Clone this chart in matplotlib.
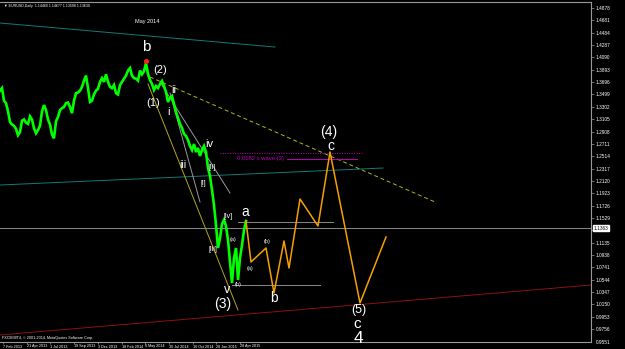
import numpy as np
import matplotlib
matplotlib.use('Agg')
import matplotlib.pyplot as plt
import matplotlib.transforms as mtransforms

plt.rcParams['font.family'] = ['Liberation Sans', 'DejaVu Sans']

# ---------------- data ----------------
# EURUSD daily chart, sampled price path (one value per step)
price = [1.3560, 1.3600, 1.3400, 1.3360, 1.3230, 1.3060, 1.3020, 1.3000, 1.2950, 1.2850,
         1.2900, 1.3080, 1.3100, 1.3050, 1.3030, 1.3150, 1.3100, 1.2960, 1.2880, 1.2930,
         1.3000, 1.3230, 1.3330, 1.3250, 1.3100, 1.3020, 1.2860, 1.2800, 1.3070, 1.3140,
         1.3250, 1.3280, 1.3300, 1.3360, 1.3370, 1.3300, 1.3200, 1.3400, 1.3520, 1.3530,
         1.3560, 1.3620, 1.3720, 1.3800, 1.3600, 1.3380, 1.3400, 1.3500, 1.3560, 1.3590,
         1.3700, 1.3760, 1.3700, 1.3820, 1.3700, 1.3620, 1.3600, 1.3650, 1.3520, 1.3500,
         1.3650, 1.3700, 1.3750, 1.3800, 1.3880, 1.3920, 1.3800, 1.3760, 1.3750, 1.3720,
         1.3880, 1.3820, 1.3870, 1.4001, 1.3825, 1.3730, 1.3666, 1.3570, 1.3634, 1.3602,
         1.3666, 1.3714, 1.3634, 1.3538, 1.3379, 1.3443, 1.3475, 1.3347, 1.3219, 1.3124,
         1.3028, 1.2964, 1.2868, 1.2837, 1.2773, 1.2677, 1.2613, 1.2709, 1.2581, 1.2645,
         1.2518, 1.2613, 1.2677, 1.2581, 1.2326, 1.2199, 1.1975, 1.1736, 1.1417, 1.1050,
         1.1210, 1.1433, 1.1497, 1.1401, 1.1178, 1.0827, 1.0492, 1.0891, 1.1050, 1.0540,
         1.0891, 1.1098, 1.1337, 1.1481]

# projected wave path (orange)
proj_x = [123, 125.5, 133, 137, 142, 144.5, 150, 159, 165, 180, 193]
proj_y = [1.1481, 1.0827, 1.1050, 1.0333, 1.1162, 1.0731, 1.1832, 1.1401, 1.2581, 1.0173, 1.1226]

# trend lines (start/end)
teal_top_x, teal_top_y = [0, 137.5], [1.4639, 1.4256]
teal_mid_x, teal_mid_y = [0, 191.5], [1.2055, 1.2326]
red_x, red_y = [0, 295.5], [0.9663, 1.0460]
ydash_x, ydash_y = [75, 217.5], [1.3778, 1.1784]
ysolid_x, ysolid_y = [74, 119], [1.3666, 1.0061]
grayA_x, grayA_y = [80, 115], [1.3698, 1.1927]
grayB_x, grayB_y = [85, 100], [1.3522, 1.1784]
a_level_x, a_level_y = [119, 166.5], 1.1465
b_level_x, b_level_y = [116, 160], 1.0460
fib_dot_x, fib_dot_y = [110, 181.5], 1.2565
fib_sol_x, fib_sol_y = [143.5, 178.5], 1.2470
bid_price = 1.1363
peak_x, peak_y = 73, 1.4033

date_labels = ['7 Feb 2013', '21 Apr 2013', '1 Jul 2013', '19 Sep 2013', '3 Dec 2013',
               '18 Feb 2014', '6 May 2014', '30 Jul 2014', '16 Oct 2014', '28 Jan 2015',
               '28 Apr 2015']
price_ticks = [1.4878, 1.4681, 1.4484, 1.4287, 1.4090, 1.3893, 1.3696, 1.3499, 1.3302,
               1.3105, 1.2908, 1.2711, 1.2514, 1.2317, 1.2120, 1.1923, 1.1726, 1.1529,
               1.1332, 1.1135, 1.0938, 1.0741, 1.0544, 1.0347, 1.0150, 0.9953, 0.9756]

# wave labels: text, x, y, size
wave_labels = [
    ('b', 73, 1.4256, 11), ('(2)', 80, 1.3889, 8), ('(1)', 76.5, 1.3363, 8),
    ('ii', 87, 1.3570, 8), ('i', 84, 1.3219, 8), ('iii', 91.5, 1.2374, 7.5),
    ('iv', 104.5, 1.2709, 8), ('[ii]', 106, 1.2342, 5), ('[i]', 101.5, 1.2087, 5),
    ('[iv]', 114, 1.1545, 5), ('[iii]', 106.5, 1.1034, 5), ('(a)', 116.5, 1.1178, 4),
    ('(b)', 119, 1.0476, 4), ('a', 122.5, 1.1624, 10), ('(a)', 125, 1.0731, 4),
    ('(b)', 133.5, 1.1146, 4), ('b', 137, 1.0253, 10), ('v', 113.5, 1.0385, 9),
    ('(3)', 111.5, 1.0150, 10), ('(4)', 164.5, 1.2900, 10), ('c', 165.5, 1.2677, 10),
    ('(5)', 179.5, 1.0061, 9), ('c', 178.5, 0.9838, 11), ('4', 179, 0.9599, 12.5),
]

# ---------------- figure ----------------
W, H = 625, 349
fig = plt.figure(figsize=(W / 100, H / 100), dpi=100, facecolor='black')
ax = fig.add_axes([0, 7 / H, 591 / W, 340 / H], facecolor='black')
ax.set_xlim(0, 295.5)
ax.set_ylim(0.9551, 1.4974)

lw_thin = 0.7
ax.plot(teal_top_x, teal_top_y, color='#137a7a', lw=lw_thin)
ax.plot(teal_mid_x, teal_mid_y, color='#137a7a', lw=lw_thin)
ax.plot(red_x, red_y, color='#8b1212', lw=lw_thin)
ax.plot(ydash_x, ydash_y, color='#b5b51e', lw=lw_thin, ls=(0, (4, 3)))
ax.plot(ysolid_x, ysolid_y, color='#b5a31e', lw=lw_thin)
ax.plot(grayA_x, grayA_y, color='#9a9a9a', lw=lw_thin)
ax.plot(grayB_x, grayB_y, color='#9a9a9a', lw=lw_thin)
ax.plot(a_level_x, [a_level_y] * 2, color='#8a8a8a', lw=lw_thin)
ax.plot(b_level_x, [b_level_y] * 2, color='#8a8a8a', lw=lw_thin)
ax.axhline(bid_price, color='#8a8a8a', lw=lw_thin)
ax.plot(fib_dot_x, [fib_dot_y] * 2, color='#c000c0', lw=lw_thin, ls=(0, (1, 1.5)))
ax.plot(fib_sol_x, [fib_sol_y] * 2, color='#c000c0', lw=lw_thin)
ax.text(fib_sol_x[0] - 1.5, fib_sol_y, '0.6182 x wave (3)', color='#c000c0', fontsize=4.2,
        ha='right', va='center')

ax.plot(range(len(price)), price, color='#00ff00', lw=1.9, solid_joinstyle='miter')
ax.plot(proj_x, proj_y, color='#f5a000', lw=1.1)
ax.plot(peak_x, peak_y, 'o', color='#ff2020', ms=2.6, mec='#ff2020')

for t, x, y, s in wave_labels:
    ax.text(x, y, t, color='white', fontsize=s, ha='center', va='center')

ax.text(73.5, 1.4655, 'May 2014', color='white', fontsize=4, ha='center', va='center')
ax.text(0.006, 0.994, '\u25bc EURUSD,Daily  1.14460 1.14677 1.13508 1.13630', color='white',
        fontsize=2.6, ha='left', va='top', transform=ax.transAxes)
ax.text(0.004, 0.006, 'FXCM MT4, \u00a9 2001-2014, MetaQuotes Software Corp.', color='white',
        fontsize=2.7, ha='left', va='bottom', transform=ax.transAxes)

# axes styling
ax.spines['left'].set_visible(False)
for side in ['right', 'bottom', 'top']:
    ax.spines[side].set_color('#9a9a9a')
    ax.spines[side].set_linewidth(0.8)

ax.yaxis.tick_right()
ax.set_yticks(price_ticks)
ax.set_yticklabels([f'{v:.4f}' for v in price_ticks])
ax.tick_params(axis='y', colors='#9a9a9a', labelcolor='white', labelsize=3.4, length=2,
               width=0.5, pad=1.5)

xt = np.linspace(1.5, 120, len(date_labels))
ax.set_xticks(xt)
ax.set_xticklabels(date_labels)
ax.tick_params(axis='x', colors='#9a9a9a', labelcolor='white', labelsize=2.7, length=1.5,
               width=0.5, pad=0.3)
for lab in ax.get_xticklabels():
    lab.set_ha('left')

trans = mtransforms.blended_transform_factory(ax.transAxes, ax.transData)
ax.text(1.004, bid_price, f'{bid_price:.4f}', color='black', fontsize=3.4, ha='left',
        va='center', transform=trans,
        bbox=dict(boxstyle='square,pad=0.12', fc='white', ec='white'))
ax.text(1.008, 0.9551, '0.9551', color='white', fontsize=3.4, ha='left', va='center',
        transform=trans)

fig.savefig('out.png', dpi=100, facecolor='black')
